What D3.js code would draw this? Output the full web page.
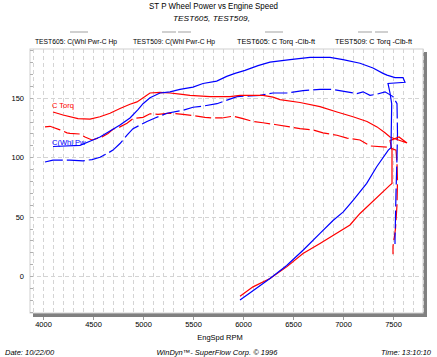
<!DOCTYPE html>
<html><head><meta charset="utf-8">
<script src="https://cdn.jsdelivr.net/npm/d3@7/dist/d3.min.js"></script>
<style>body{margin:0;background:#fff}svg{display:block}text{font-family:"Liberation Sans",Arial,sans-serif}</style>
</head><body>
<script>
const xTicks = [4000, 4500, 5000, 5500, 6000, 6500, 7000, 7500];
const yTicks = [0, 50, 100, 150];
const legendLabels = ["TEST605: C(Whl Pwr-C Hp", "TEST509: C(Whl Pwr-C Hp", "TEST605: C Torq -Clb-ft", "TEST509: C Torq -Clb-ft"];

const pwr605 = [[4100,109],[4370,110],[4487,114],[4570,117],[4670,122],[4770,127],[4870,133],[4950,140],[5000,145],[5070,150],[5170,154],[5270,155],[5370,157],[5500,159],[5600,162],[5737,164],[5837,168],[5920,170.5],[6020,173],[6150,177],[6270,180],[6470,182],[6670,184],[6870,184],[7000,182],[7170,179],[7300,175],[7400,170.5],[7440,169],[7520,167],[7600,167],[7620,163],[7450,162],[7470,154],[7487,145],[7480,108],[7453,106],[7337,92],[7237,78],[7103,64],[7003,54],[6903,47],[6770,36],[6603,22],[6437,9],[6270,-2],[6103,-12],[5970,-20]];
const trq605 = [[4100,138],[4200,135.5],[4350,132.5],[4470,132],[4570,134],[4670,137],[4770,141],[4870,144.5],[4940,146.5],[5020,151],[5070,154],[5170,154.5],[5270,154],[5370,153],[5470,152],[5670,151],[5870,151],[5970,152],[6200,152],[6300,150.5],[6370,148.5],[6570,146],[6770,142.5],[6940,138],[7100,134],[7240,130],[7340,125.5],[7420,120.5],[7470,117],[7640,112],[7560,117],[7470,114],[7490,106],[7490,78],[7470,76.5],[7170,52.7],[7070,43],[6770,27.5],[6600,19],[6440,8],[6270,-2],[6100,-9],[5970,-17]];
const pwr509 = [[4020,96],[4100,97.5],[4270,97.5],[4400,97],[4490,98],[4570,100],[4640,103],[4700,106],[4770,111.5],[4840,118.5],[4900,124],[4970,127],[5040,130],[5120,133],[5240,137],[5400,139.5],[5500,142],[5600,143],[5740,145],[5840,148],[5940,151],[6070,151.5],[6170,152],[6300,154],[6440,154],[6600,156],[6770,157],[6900,157],[7040,155],[7140,153.5],[7200,155],[7270,152],[7340,153],[7420,155],[7500,151],[7540,145],[7545,120],[7540,100],[7530,70],[7525,50],[7520,30],[7520,27]];
const trq509 = [[4020,125.5],[4070,126],[4170,123],[4240,120.5],[4270,120],[4370,119.5],[4420,117],[4490,114.5],[4590,117],[4650,120],[4700,123.5],[4770,125.5],[4840,128.5],[4900,132.5],[5000,133.5],[5070,136.5],[5150,136],[5270,137],[5400,136],[5500,135],[5620,133.5],[5700,133],[5790,133],[5900,134.5],[6000,132.5],[6100,130],[6200,129],[6320,127.5],[6470,125.5],[6570,124],[6700,123],[6800,120.5],[6940,118.5],[7040,116],[7170,114.5],[7270,109.5],[7450,108.5],[7530,106],[7540,95],[7545,80],[7540,60],[7525,40],[7500,25],[7500,18.5]];

const W = 437, H = 357;
const svg = d3.select("body").append("svg").attr("width", W).attr("height", H);
const L = 30, R = 423, T = 49, B = 313;
const x = d3.scaleLinear().domain([3870, 7800]).range([L, R]);
const y = d3.scaleLinear().domain([-31, 191]).range([B, T]);

// shadow
svg.append("rect").attr("x", L + 3).attr("y", B).attr("width", R - L + 1).attr("height", 4).attr("fill", "#808080");
svg.append("rect").attr("x", R).attr("y", T + 3).attr("width", 4).attr("height", B - T + 1).attr("fill", "#808080");
svg.append("rect").attr("x", L).attr("y", T).attr("width", R - L).attr("height", B - T).attr("fill", "#fff").attr("stroke", "#d0d0d0");

// grid
const g = svg.append("g");
g.selectAll(".vg").data(d3.range(3900, 7801, 100)).join("line")
  .attr("x1", d => Math.round(x(d)) + 0.5).attr("x2", d => Math.round(x(d)) + 0.5)
  .attr("y1", T).attr("y2", B).attr("stroke", "#d4d4d4").attr("stroke-dasharray", "4,3");
g.selectAll(".hg").data(yTicks).join("line")
  .attr("y1", d => Math.round(y(d)) + 0.5).attr("y2", d => Math.round(y(d)) + 0.5)
  .attr("x1", L).attr("x2", R).attr("stroke", "#d4d4d4").attr("stroke-dasharray", "4,3");
g.selectAll(".mt").data(d3.range(-30, 191, 10)).join("line")
  .attr("y1", d => Math.round(y(d)) + 0.5).attr("y2", d => Math.round(y(d)) + 0.5)
  .attr("x1", L).attr("x2", L + 3).attr("stroke", "#b0b0b0");

// axes labels
svg.append("g").attr("transform", `translate(${L},0)`)
  .call(d3.axisLeft(y).tickValues(yTicks).tickFormat(d3.format("d")).tickSize(0).tickPadding(6))
  .call(s => { s.select(".domain").remove(); s.selectAll("text").attr("font-size", "7.5px").attr("fill", "#000").attr("font-family", "Liberation Sans, Arial"); });
svg.append("g").attr("transform", `translate(0,${B + 4})`)
  .call(d3.axisBottom(x).tickValues(xTicks).tickFormat(d3.format("d")).tickSize(3).tickPadding(2))
  .call(s => { s.select(".domain").remove(); s.selectAll("line").attr("stroke", "#999");
    s.selectAll("text").attr("font-size", "7.5px").attr("fill", "#000").attr("font-family", "Liberation Sans, Arial"); });

// lines
const line = d3.line().x(d => x(d[0])).y(d => y(d[1]));
const series = [
  {d: trq509, c: "#ff0000", dash: "16,4"},
  {d: pwr509, c: "#0000ff", dash: "18,4"},
  {d: trq605, c: "#ff0000", dash: null},
  {d: pwr605, c: "#0000ff", dash: null}
];
series.forEach(s => {
  svg.append("path").attr("d", line(s.d)).attr("fill", "none").attr("stroke", s.c)
    .attr("stroke-width", 1.2).attr("stroke-dasharray", s.dash);
});

// in-chart labels
svg.append("text").attr("x", 52).attr("y", 107.5).attr("font-size", "7.5px").attr("fill", "#ff0000").text("C Torq");
svg.append("text").attr("x", 52).attr("y", 144.5).attr("font-size", "7.5px").attr("fill", "#0000ff").text("C(Whl Pw");

// titles
svg.append("text").attr("x", 149).attr("y", 9).attr("font-size", "8.5px").attr("textLength", 129).attr("lengthAdjust", "spacingAndGlyphs").text("ST P Wheel Power vs Engine Speed");
svg.append("text").attr("x", 173).attr("y", 21).attr("font-size", "7.5px").attr("font-style", "italic").attr("textLength", 77).attr("lengthAdjust", "spacingAndGlyphs").text("TEST605, TEST509,");

// legend
const legX = [35, 133, 237, 335], legW = [82, 82, 78, 77];
legendLabels.forEach((t, i) => {
  svg.append("text").attr("x", legX[i]).attr("y", 43.5).attr("font-size", "7.5px").attr("textLength", legW[i]).attr("lengthAdjust", "spacingAndGlyphs").text(t);
});
const samples = [[70, 88], [162, 176], [178, 191], [265, 283], [358, 372], [375, 388]];
samples.forEach(s => svg.append("line").attr("x1", s[0]).attr("x2", s[1]).attr("y1", 32).attr("y2", 32).attr("stroke", "#d0d0d0").attr("stroke-width", 2));

// axis title & footer
svg.append("text").attr("x", 220).attr("y", 340).attr("text-anchor", "middle").attr("font-size", "7.5px").text("EngSpd  RPM");
svg.append("text").attr("x", 5).attr("y", 354.5).attr("font-size", "7.5px").attr("font-style", "italic").text("Date: 10/22/00");
svg.append("text").attr("x", 217).attr("y", 354.5).attr("text-anchor", "middle").attr("font-size", "7.5px").attr("font-style", "italic").text("WinDyn™- SuperFlow Corp. © 1996");
svg.append("text").attr("x", 431).attr("y", 354.5).attr("text-anchor", "end").attr("font-size", "7.5px").attr("font-style", "italic").text("Time: 13:10:10");
</script>
</body></html>
